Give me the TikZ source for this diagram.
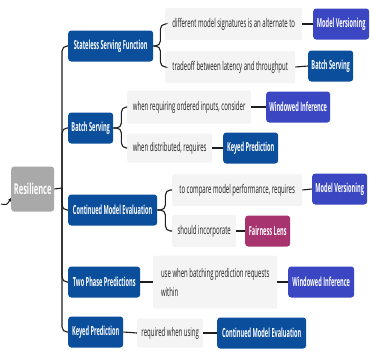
\documentclass[tikz,border=0pt]{standalone}
\usepackage{fontspec}
\setmainfont{Open Sans}
\newfontfamily\tfam[FakeStretch=0.5]{Open Sans}
\newfontfamily\nfam[FakeStretch=0.45]{Open Sans}
\newfontfamily\rfam[FakeStretch=0.5]{Open Sans}
\usetikzlibrary{arrows.meta}
\definecolor{cdb}{HTML}{0B4F9C}
\definecolor{cpb}{HTML}{3B47C2}
\definecolor{cpk}{HTML}{A8346F}
\definecolor{cgr}{HTML}{A9A9A9}
\definecolor{ctb}{HTML}{F4F4F4}
\definecolor{ctx}{HTML}{1E1E1E}
\tikzset{
  base/.style={anchor=west, rounded corners=3pt, minimum height=31pt, inner sep=1pt, text=white, font=\nfam\bfseries\fontsize{12.5}{14}\selectfont},
  dblue/.style={base, fill=cdb},
  pblue/.style={base, fill=cpb},
  pink/.style={base, fill=cpk},
  gbox/.style={base, fill=cgr, font=\rfam\bfseries\fontsize{15}{17}\selectfont},
  tbox/.style={anchor=west, fill=ctb, rounded corners=2pt, minimum height=32pt, inner sep=3pt, text=ctx, align=left, font=\tfam\fontsize{12}{19}\selectfont},
  conn/.style={draw=ctx, line width=1.1pt, rounded corners=5pt},
}
\begin{document}
\begin{tikzpicture}[x=1pt,y=-1pt]
\useasboundingbox (0,0) rectangle (372,360);
% root
\node[gbox, minimum width=43pt, minimum height=45pt] (res) at (11,189) {Resilience};
% level 1
\node[dblue, minimum width=85pt] (ssf) at (68,46) {Stateless Serving Function};
\node[dblue, minimum width=45pt] (bs) at (68,128) {Batch Serving};
\node[dblue, minimum width=89pt] (cme) at (68,210) {Continued Model Evaluation};
\node[dblue, minimum width=72pt] (tpp) at (68,282) {Two Phase Predictions};
\node[dblue, minimum width=55pt] (kp) at (68,332) {Keyed Prediction};
% level 2 texts
\node[tbox, minimum width=137pt] (t1) at (165,24) {different model signatures is an alternate to};
\node[tbox, minimum width=130pt] (t2) at (165,67) {tradeoff between latency and throughput};
\node[tbox, minimum width=124pt, minimum height=33pt] (t3) at (127,107) {when requiring ordered inputs, consider};
\node[tbox, minimum width=85pt, minimum height=29pt] (t4) at (127,148) {when distributed, requires};
\node[tbox, minimum width=130pt] (t5) at (172,190) {to compare model performance, requires};
\node[tbox, minimum width=64pt] (t6) at (172,231) {should incorporate};
\node[tbox, minimum width=124pt, minimum height=53pt] (t7) at (153,282) {use when batching prediction requests\\within};
\node[tbox, minimum width=66pt, minimum height=29pt] (t8) at (137,333) {required when using};
% level 3
\node[pblue, minimum width=56pt] (mv1) at (313,24) {Model Versioning};
\node[dblue, minimum width=45pt] (bs2) at (308,66) {Batch Serving};
\node[pblue, minimum width=64pt] (wi1) at (266,107) {Windowed Inference};
\node[dblue, minimum width=55pt] (kp2) at (223,148) {Keyed Prediction};
\node[pblue, minimum width=55pt] (mv2) at (312,189) {Model Versioning};
\node[pink, minimum width=45pt] (fl) at (245,231) {Fairness Lens};
\node[pblue, minimum width=66pt] (wi2) at (288,282) {Windowed Inference};
\node[dblue, minimum width=89pt] (cme2) at (217,333) {Continued Model Evaluation};
% incoming arrow
\coordinate (in) at (1,204);
\draw[draw=ctx, line width=1pt, -{Stealth[length=3.5pt,width=3.5pt]}] (in) .. controls (7,205) .. ([yshift=-9pt]res.west);
% trunk
\coordinate (j0) at (62,188);
\draw[conn] (res.east) -- (j0);
\foreach \n in {ssf,bs,cme,tpp,kp}{\draw[conn] (j0) |- (\n.west);}
% brackets
\draw[conn] (ssf.east) -- ++(7,0) |- (t1.west);
\draw[conn] (ssf.east) -- ++(7,0) |- (t2.west);
\draw[conn] (bs.east) -- ++(8,0) |- (t3.west);
\draw[conn] (bs.east) -- ++(8,0) |- (t4.west);
\draw[conn] (cme.east) -- ++(8,0) |- (t5.west);
\draw[conn] (cme.east) -- ++(8,0) |- (t6.west);
\draw[conn] (tpp.east) -- (t7.west);
\draw[conn] (kp.east) -- (t8.west);
% to level 3
\draw[conn] (t1.east) -- (mv1.west);
\draw[conn] (t2.east) -- (bs2.west);
\draw[conn] (t3.east) -- (wi1.west);
\draw[conn] (t4.east) -- (kp2.west);
\draw[conn] (t5.east) -- (mv2.west);
\draw[conn] (t6.east) -- (fl.west);
\draw[conn] (t7.east) -- (wi2.west);
\draw[conn] (t8.east) -- (cme2.west);
\end{tikzpicture}
\end{document}
